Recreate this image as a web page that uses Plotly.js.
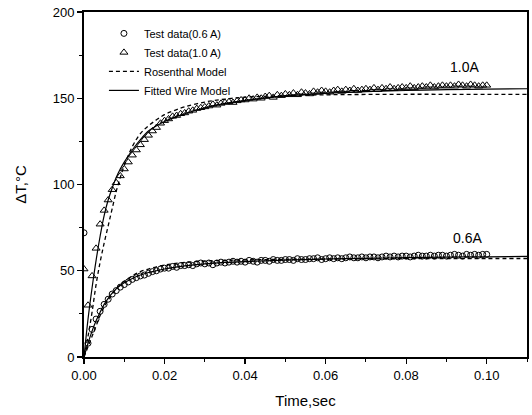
<!DOCTYPE html>
<html>
<head>
<meta charset="utf-8">
<script src="https://cdn.plot.ly/plotly-3.0.1.min.js"></script>
<style>html,body{margin:0;padding:0;background:#fff;}#chart{width:532px;height:415px;}</style>
</head>
<body>
<div id="chart"></div>
<script>
// Measured time samples (s)
const time = [0,0.001,0.002,0.003,0.004,0.005,0.006,0.007,0.008,0.009,
  0.010,0.011,0.012,0.013,0.014,0.015,0.016,0.017,0.018,0.019,
  0.020,0.021,0.022,0.023,0.024,0.025,0.026,0.027,0.028,0.029,
  0.030,0.031,0.032,0.033,0.034,0.035,0.036,0.037,0.038,0.039,
  0.040,0.041,0.042,0.043,0.044,0.045,0.046,0.047,0.048,0.049,
  0.050,0.051,0.052,0.053,0.054,0.055,0.056,0.057,0.058,0.059,
  0.060,0.061,0.062,0.063,0.064,0.065,0.066,0.067,0.068,0.069,
  0.070,0.071,0.072,0.073,0.074,0.075,0.076,0.077,0.078,0.079,
  0.080,0.081,0.082,0.083,0.084,0.085,0.086,0.087,0.088,0.089,
  0.090,0.091,0.092,0.093,0.094,0.095,0.096,0.097,0.098,0.099,0.100];

const test06 = [72,8,16,22,26.5,30.5,33.5,36.5,38.5,40.5,
  42,43.5,45,46,47,47.5,48.5,49.5,50,51,
  51.5,51.5,52.5,52,53,53,53.5,53,54,54.5,
  54,54.5,53.5,54.5,55,54.5,55,55.5,55,55.5,
  55,56,55.5,55,56,56,55.5,56.5,56,56,
  56.5,56.5,56,57,56.5,56.5,57,57,57.5,56.5,
  57,57.5,57,57.5,57,57.5,58,57.5,57.5,58,
  57.5,58,58,57.5,58,58.5,58,58.5,58,58.5,
  58.5,58,58.5,59,58.5,58.5,59,58.5,59,59,
  58.5,59,59.5,59,58.5,59.5,59,59.5,59,59.5,59.5];

const test10 = [51,30,47,63,77,85,91,97,101,105,
  109,113,117,120,123,126,128.5,131,133,135.5,
  137,138,139.5,140,141,141.5,142.5,143,144,144.5,
  145,145.5,146.5,146,147,147.5,148,147.5,148.5,149,
  149,150,149.5,150.5,150,151,151.5,150.5,152,151.5,
  152.5,152,153,152,153.5,153,152.5,154,153.5,154.5,
  154,153.5,154.5,155,154,155,154.5,155.5,154.5,155,
  155.5,155,156,155,156,155.5,156.5,155.5,156,156.5,
  156,157,156,156.5,157,156.5,157.5,156.5,157,157.5,
  157,157.5,157,158,157.5,157,158,157.5,157,157.5,157.5];

// Model curves
const modelTime = [0,0.001,0.002,0.003,0.004,0.005,0.006,0.007,0.008,0.009,0.010,
  0.012,0.014,0.016,0.018,0.020,0.022,0.025,0.030,0.035,0.040,
  0.050,0.060,0.070,0.080,0.090,0.100,0.110];

const rosen10 = [0,12,26,42,55,66,76,86,96,104,111,
  122,129.5,134,137.5,140.5,142.5,145,147.8,149.5,150.6,
  151.5,152,152.2,152.3,152.3,152.3,152.3];
const fitted10 = [0,22,40,56,70,82,91,98,104,109,113,
  120,126,131,134,136.5,138.5,141,144.5,147,148.8,
  151.2,152.8,153.8,154.5,155,155.3,155.5];
const rosen06 = [0,6,12,18,24,29,33,36.5,39.5,42,44,
  47,49.5,51,52.3,53.3,54,54.8,55.6,56,56.3,
  56.6,56.8,56.9,57,57,57.1,57.1];
const fitted06 = [0,8,15,21,26,30.5,34,37,39.5,41.5,43,
  45.5,47.5,49,50,51,51.8,52.8,54,54.8,55.3,
  56.2,56.8,57.2,57.6,57.9,58.1,58.3];

const xTicks = [0,0.02,0.04,0.06,0.08,0.10];
const xTickText = ['0.00','0.02','0.04','0.06','0.08','0.10'];
const yTicks = [0,50,100,150,200];

const black = '#000';
const traces = [
  {x: time, y: test06, mode: 'markers', name: 'Test data(0.6 A)',
   marker: {symbol: 'circle-open', size: 6, color: black, line: {width: 1, color: black}}},
  {x: time, y: test10, mode: 'markers', name: 'Test data(1.0 A)',
   marker: {symbol: 'triangle-up-open', size: 7, color: black, line: {width: 1, color: black}}},
  {x: modelTime, y: rosen06, mode: 'lines', name: 'Rosenthal Model', legendgroup: 'r',
   line: {color: black, width: 1.3, dash: '4px,3px', shape: 'spline'}},
  {x: modelTime, y: fitted06, mode: 'lines', name: 'Fitted Wire Model', legendgroup: 'f',
   line: {color: black, width: 1.2, shape: 'spline'}},
  {x: modelTime, y: rosen10, mode: 'lines', name: 'Rosenthal Model', legendgroup: 'r', showlegend: false,
   line: {color: black, width: 1.3, dash: '4px,3px', shape: 'spline'}},
  {x: modelTime, y: fitted10, mode: 'lines', name: 'Fitted Wire Model', legendgroup: 'f', showlegend: false,
   line: {color: black, width: 1.2, shape: 'spline'}}
];

const font = 'Liberation Sans, Arial, sans-serif';
const layout = {
  width: 532, height: 415,
  margin: {l: 84, r: 5, t: 12, b: 58},
  paper_bgcolor: '#fff', plot_bgcolor: '#fff',
  font: {family: font, color: black, size: 13},
  showlegend: true,
  legend: {x: 0.045, y: 0.98, xanchor: 'left', yanchor: 'top', bgcolor: 'rgba(0,0,0,0)',
           font: {family: font, size: 11, color: black}, tracegroupgap: 0, itemwidth: 30},
  xaxis: {range: [0, 0.11], tickvals: xTicks, ticktext: xTickText, showgrid: false, zeroline: false,
          showline: true, linecolor: black, linewidth: 2, mirror: true,
          ticks: 'outside', ticklen: 5, tickwidth: 1.2, tickcolor: black,
          minor: {dtick: 0.01, ticks: 'outside', ticklen: 3, tickcolor: black, tickwidth: 1},
          tickfont: {size: 13},
          title: {text: 'Time,sec', font: {size: 15}, standoff: 14}},
  yaxis: {range: [0, 200], tickvals: yTicks, showgrid: false, zeroline: false,
          showline: true, linecolor: black, linewidth: 2, mirror: true,
          ticks: 'outside', ticklen: 5, tickwidth: 1.2, tickcolor: black,
          minor: {dtick: 25, ticks: 'outside', ticklen: 3, tickcolor: black, tickwidth: 1},
          tickfont: {size: 13},
          title: {text: 'ΔT,°C', font: {size: 15}, standoff: 22}},
  annotations: [
    {x: 0.0946, y: 168, xref: 'x', yref: 'y', text: '1.0A', showarrow: false, font: {size: 14}},
    {x: 0.0953, y: 69, xref: 'x', yref: 'y', text: '0.6A', showarrow: false, font: {size: 14}}
  ]
};

Plotly.newPlot('chart', traces, layout, {displayModeBar: false, staticPlot: true});
</script>
</body>
</html>
